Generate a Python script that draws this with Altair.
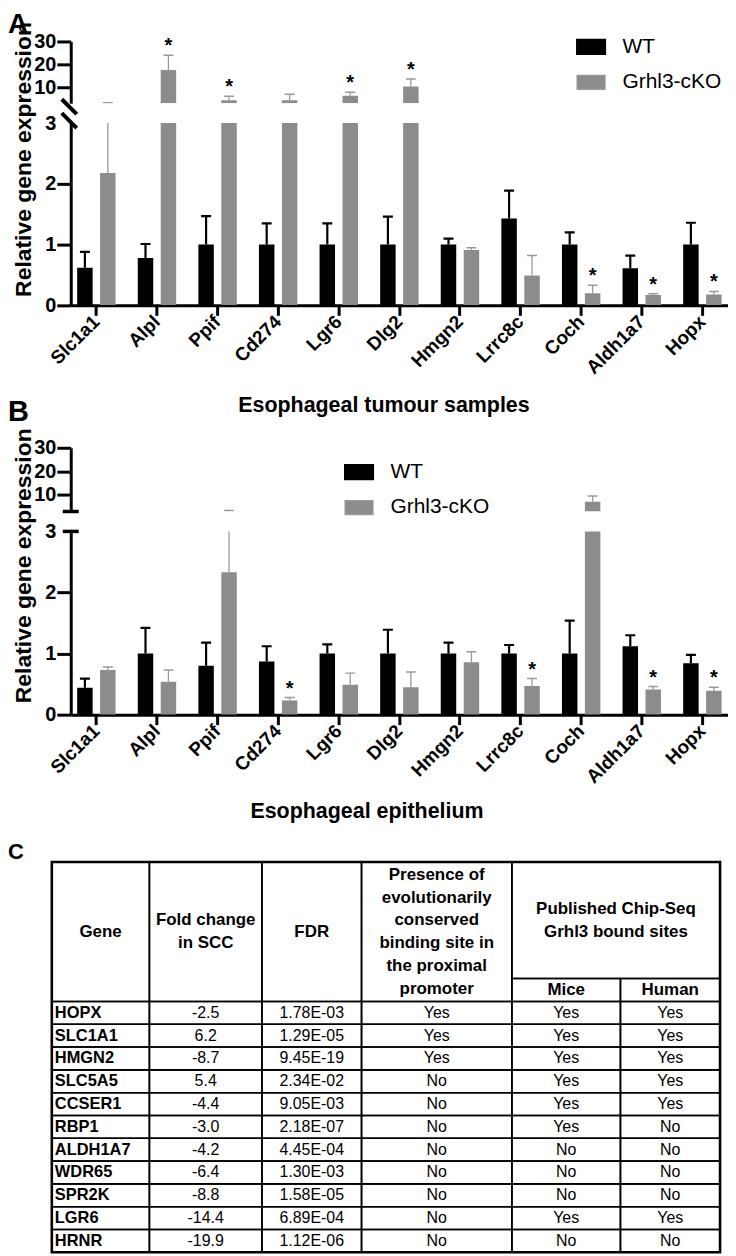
import altair as alt
import pandas as pd

FONT = "Liberation Sans"
BLACK = "#000000"
GREY = "#8c8c8c"
GREY_ERR = "#9a9a9a"

genes = ["Slc1a1", "Alpl", "Ppif", "Cd274", "Lgr6", "Dlg2", "Hmgn2", "Lrrc8c", "Coch", "Aldh1a7", "Hopx"]
groups = ["WT", "Grhl3-cKO"]

# Panel A: esophageal tumour samples (mean, upper end of error bar, significance)
a_wt = [0.62, 0.78, 1.00, 1.00, 1.00, 1.00, 1.00, 1.43, 1.00, 0.61, 1.00]
a_wt_hi = [0.88, 1.01, 1.47, 1.35, 1.35, 1.46, 1.10, 1.89, 1.20, 0.82, 1.36]
a_ko = [2.18, 17.5, 4.3, 4.3, 6.3, 10.3, 0.91, 0.49, 0.20, 0.17, 0.18]
a_ko_hi = [3.15, 24.0, 6.0, 6.9, 7.8, 13.6, 0.95, 0.82, 0.33, 0.19, 0.23]
a_sig = [0, 1, 1, 0, 1, 1, 0, 0, 1, 1, 1]

# Panel B: esophageal epithelium
b_wt = [0.44, 1.00, 0.80, 0.87, 1.00, 1.00, 1.00, 1.00, 1.00, 1.12, 0.84]
b_wt_hi = [0.59, 1.42, 1.18, 1.12, 1.15, 1.39, 1.18, 1.14, 1.54, 1.30, 0.98]
b_ko = [0.73, 0.54, 2.33, 0.23, 0.49, 0.45, 0.86, 0.47, 7.1, 0.41, 0.39]
b_ko_hi = [0.78, 0.73, 3.45, 0.28, 0.68, 0.70, 1.03, 0.59, 9.6, 0.46, 0.45]
b_sig = [0, 0, 0, 1, 0, 0, 0, 1, 0, 1, 1]

# Panel C table
tbl_gene = ["HOPX", "SLC1A1", "HMGN2", "SLC5A5", "CCSER1", "RBP1", "ALDH1A7", "WDR65", "SPR2K", "LGR6", "HRNR"]
tbl_fold = [-2.5, 6.2, -8.7, 5.4, -4.4, -3.0, -4.2, -6.4, -8.8, -14.4, -19.9]
tbl_fdr = [1.78e-03, 1.29e-05, 9.45e-19, 2.34e-02, 9.05e-03, 2.18e-07, 4.45e-04, 1.30e-03, 1.58e-05, 6.89e-04, 1.12e-06]
tbl_prom = ["Yes", "Yes", "Yes", "No", "No", "No", "No", "No", "No", "No", "No"]
tbl_mice = ["Yes", "Yes", "Yes", "Yes", "Yes", "Yes", "No", "No", "No", "Yes", "No"]
tbl_human = ["Yes", "Yes", "Yes", "Yes", "Yes", "No", "No", "No", "No", "Yes", "No"]
header_text = ["Gene", "Fold change\nin SCC", "FDR",
               "Presence of\nevolutionarily\nconserved\nbinding site in\nthe proximal\npromoter",
               "Published Chip-Seq\nGrhl3 bound sites", "Mice", "Human"]

# ---------------- layout constants ----------------
PLOT_W = 660
COL_EDGES = [0, 98, 211, 311, 462, 571, 671]
HEAD_H = 140
SUB_Y = 117
ROW_H = 22.9


def frame(wt, wt_hi, ko, ko_hi, sig):
    rows = []
    for i, g in enumerate(genes):
        rows.append(dict(gene=g, group="WT", value=wt[i], hi=wt_hi[i], star=""))
        rows.append(dict(gene=g, group="Grhl3-cKO", value=ko[i], hi=ko_hi[i],
                         star="*" if sig[i] else ""))
    return pd.DataFrame(rows)


one = alt.Chart(pd.DataFrame({"k": [0]}))


def letter(txt, size, dy):
    return one.mark_text(text=txt, font=FONT, fontSize=size, fontWeight="bold",
                         align="left", baseline="alphabetic", color="black").encode(
        x=alt.value(-63), y=alt.value(dy))


def segment(df, lo, hi, h, ticks, bottom, brk, legend=None, xtitle=None,
            xtitle_x=0, xtitle_y=0, ytitle_y=0, extra=None):
    if bottom:
        xaxis = alt.Axis(labelAngle=-45, labelAlign="right", labelBaseline="middle",
                         labelFont=FONT, labelFontSize=19, labelFontWeight="bold",
                         labelColor="black", labelPadding=3, tickSize=10, tickWidth=3,
                         tickColor="black", domainWidth=3, domainColor="black",
                         title=xtitle, titleFont=FONT, titleFontSize=21.5,
                         titleFontWeight="bold", titleColor="black",
                         titleX=xtitle_x, titleY=xtitle_y, titleBaseline="alphabetic")
        yaxis = alt.Axis(values=ticks, grid=False, domainWidth=3, domainColor="black",
                         tickWidth=3, tickSize=14, tickColor="black",
                         tickOpacity={"condition": {"test": "datum.value === 3", "value": 0}, "value": 1},
                         labelFont=FONT, labelFontSize=20, labelFontWeight="bold",
                         labelColor="black", labelPadding=1,
                         title="Relative gene expression", titleFont=FONT,
                         titleFontSize=23, titleFontWeight="bold", titleColor="black",
                         titleX=-40, titleY=ytitle_y, titleBaseline="alphabetic")
    else:
        xaxis = None
        yaxis = alt.Axis(values=ticks, grid=False, domainWidth=3, domainColor="black",
                         tickWidth=3, tickSize=14, tickColor="black",
                         labelFont=FONT, labelFontSize=20, labelFontWeight="bold",
                         labelColor="black", labelPadding=1, title=None)

    xenc = alt.X("gene:N", sort=genes,
                 scale=alt.Scale(paddingInner=0.154, paddingOuter=0), axis=xaxis)
    xo = alt.XOffset("group:N", sort=groups,
                     scale=alt.Scale(paddingInner=0.326, paddingOuter=0.28))
    ysc = alt.Scale(domain=[lo, hi], zero=False, nice=False)
    col_scale = alt.Scale(domain=groups, range=[BLACK, GREY])

    def Y(field):
        return alt.Y(field, type="quantitative", scale=ysc, axis=yaxis)

    base = alt.Chart(df).encode(x=xenc, xOffset=xo)

    bars = base.transform_filter(f"datum.value > {lo}").mark_bar(clip=True).encode(
        y=Y("value"),
        y2=alt.Y2Datum(lo),
        color=alt.Color("group:N", sort=groups, scale=col_scale, legend=legend),
    )
    err = base.mark_rule(clip=True).encode(
        y=Y("value"),
        y2="hi:Q",
        stroke=alt.Stroke("group:N", scale=alt.Scale(domain=groups, range=[BLACK, GREY_ERR]), legend=None),
        strokeWidth=alt.StrokeWidth("group:N", scale=alt.Scale(domain=groups, range=[2.2, 1.3]), legend=None),
    )
    in_seg = f"datum.hi >= {lo} && datum.hi <= {hi}"
    cap_wt = base.transform_filter(in_seg + " && datum.group == 'WT'").mark_tick(
        clip=True, size=10, thickness=2.2, color=BLACK, opacity=1).encode(y=Y("hi"))
    cap_ko = base.transform_filter(in_seg + " && datum.group != 'WT'").mark_tick(
        clip=True, size=10, thickness=1.5, color=GREY_ERR, opacity=1).encode(y=Y("hi"))
    stars = base.transform_filter(in_seg + " && datum.star != ''").mark_text(
        font=FONT, fontSize=20, fontWeight="bold", baseline="alphabetic", dy=-3,
        color="black").encode(y=Y("hi"), text="star:N")

    if brk == "slash":
        if bottom:
            mark = one.mark_rule(strokeWidth=4, color="black").encode(
                x=alt.value(-9), x2=alt.value(6), y=alt.value(-10), y2=alt.value(5))
        else:
            mark = one.mark_rule(strokeWidth=4, color="black").encode(
                x=alt.value(-9), x2=alt.value(6), y=alt.value(h - 4), y2=alt.value(h + 11))
    else:
        yy = 0 if bottom else h
        mark = one.mark_rule(strokeWidth=3.5, color="black").encode(
            x=alt.value(-8), x2=alt.value(8), y=alt.value(yy), y2=alt.value(yy))

    layers = [bars, err, cap_wt, cap_ko, stars, mark]
    if extra is not None:
        layers.append(extra)
    return alt.layer(*layers).properties(width=PLOT_W, height=h)


def make_legend(lx, ly):
    return alt.Legend(orient="none", legendX=lx, legendY=ly, title=None,
                      symbolType="M-1,-0.5H1V0.5H-1Z", symbolSize=784, symbolStrokeWidth=0,
                      symbolOpacity=1, labelFont=FONT, labelFontSize=21, labelColor="black",
                      labelOffset=16, rowPadding=9, padding=0)


dfa = frame(a_wt, a_wt_hi, a_ko, a_ko_hi, a_sig)
dfb = frame(b_wt, b_wt_hi, b_ko, b_ko_hi, b_sig)

a_top = segment(dfa, 3, 30, 62, [10, 20, 30], False, "slash",
                legend=make_legend(507, -10), extra=letter("A", 28, -9))
a_bot = segment(dfa, 0, 3, 183, [0, 1, 2, 3], True, "slash",
                xtitle="Esophageal tumour samples", xtitle_x=314, xtitle_y=107, ytitle_y=36)
b_top = segment(dfb, 3, 30, 64, [10, 20, 30], False, "tick",
                legend=make_legend(274, 9), extra=letter("B", 29, -27))
b_bot = segment(dfb, 0, 3, 184, [0, 1, 2, 3], True, "tick",
                xtitle="Esophageal epithelium", xtitle_x=297, xtitle_y=103, ytitle_y=34)


def spacer(h):
    return alt.Chart(pd.DataFrame({"v": [0]})).mark_point(opacity=0).encode(
        x=alt.X("v:Q", axis=None), y=alt.Y("v:Q", axis=None)).properties(width=PLOT_W, height=h)


# ---------------- table ----------------
TABLE_H = HEAD_H + ROW_H * len(tbl_gene)
cells = []
head_spans = [(0, 1, 0, HEAD_H), (1, 2, 0, HEAD_H), (2, 3, 0, HEAD_H), (3, 4, 0, HEAD_H),
              (4, 6, 0, SUB_Y), (4, 5, SUB_Y, HEAD_H), (5, 6, SUB_Y, HEAD_H)]
head_rows = []
for (c0, c1, y0, y1), t in zip(head_spans, header_text):
    x0, x1 = COL_EDGES[c0], COL_EDGES[c1]
    cells.append(dict(x0=x0, x1=x1, y0=y0, y1=y1))
    n_lines = t.count("\n") + 1
    head_rows.append(dict(xc=(x0 + x1) / 2,
                          yc=(y0 + y1) / 2 - (n_lines - 1) * ROW_H / 2, t=t))

gene_rows, val_rows = [], []
for r in range(len(tbl_gene)):
    y0 = HEAD_H + r * ROW_H
    y1 = y0 + ROW_H
    vals = [tbl_gene[r], f"{tbl_fold[r]:.1f}", f"{tbl_fdr[r]:.2E}", tbl_prom[r], tbl_mice[r], tbl_human[r]]
    for c in range(6):
        x0, x1 = COL_EDGES[c], COL_EDGES[c + 1]
        cells.append(dict(x0=x0, x1=x1, y0=y0, y1=y1))
        if c == 0:
            gene_rows.append(dict(xl=x0 + 3, yc=(y0 + y1) / 2, t=vals[c]))
        else:
            val_rows.append(dict(xc=(x0 + x1) / 2, yc=(y0 + y1) / 2, t=vals[c]))

tx = alt.Scale(domain=[0, COL_EDGES[-1]], range=[-19, COL_EDGES[-1] - 19])
ty = alt.Scale(domain=[0, TABLE_H], range=[0, TABLE_H])

grid = alt.Chart(pd.DataFrame(cells)).mark_rect(fillOpacity=0, stroke="black", strokeWidth=1.6).encode(
    x=alt.X("x0:Q", scale=tx, axis=None), x2="x1:Q",
    y=alt.Y("y0:Q", scale=ty, axis=None), y2="y1:Q")
outer = alt.Chart(pd.DataFrame([dict(x0=0, x1=COL_EDGES[-1], y0=0, y1=TABLE_H)])).mark_rect(
    fillOpacity=0, stroke="black", strokeWidth=2.6).encode(
    x=alt.X("x0:Q", scale=tx, axis=None), x2="x1:Q",
    y=alt.Y("y0:Q", scale=ty, axis=None), y2="y1:Q")
head_txt = alt.Chart(pd.DataFrame(head_rows)).mark_text(
    font=FONT, fontSize=17, fontWeight="bold", lineBreak="\n", lineHeight=22.9,
    align="center", baseline="middle", color="black").encode(
    x=alt.X("xc:Q", scale=tx, axis=None), y=alt.Y("yc:Q", scale=ty, axis=None), text="t:N")
gene_txt = alt.Chart(pd.DataFrame(gene_rows)).mark_text(
    font=FONT, fontSize=16.5, fontWeight="bold", align="left", baseline="middle",
    color="black").encode(
    x=alt.X("xl:Q", scale=tx, axis=None), y=alt.Y("yc:Q", scale=ty, axis=None), text="t:N")
val_txt = alt.Chart(pd.DataFrame(val_rows)).mark_text(
    font=FONT, fontSize=16, align="center", baseline="middle", color="black").encode(
    x=alt.X("xc:Q", scale=tx, axis=None), y=alt.Y("yc:Q", scale=ty, axis=None), text="t:N")

table = alt.layer(grid, outer, head_txt, gene_txt, val_txt, letter("C", 22, -3)).properties(
    width=PLOT_W, height=TABLE_H)

chart = alt.vconcat(a_top, a_bot, spacer(103), b_top, b_bot, spacer(108), table,
                    spacing=20, bounds="flush").resolve_scale(
    x="independent", y="independent", color="independent", stroke="independent",
    strokeWidth="independent").resolve_legend(color="independent").properties(
    padding=0, background="white").configure_view(stroke=None)

chart.save("out.html", embed_options={"renderer": "svg", "actions": False})
